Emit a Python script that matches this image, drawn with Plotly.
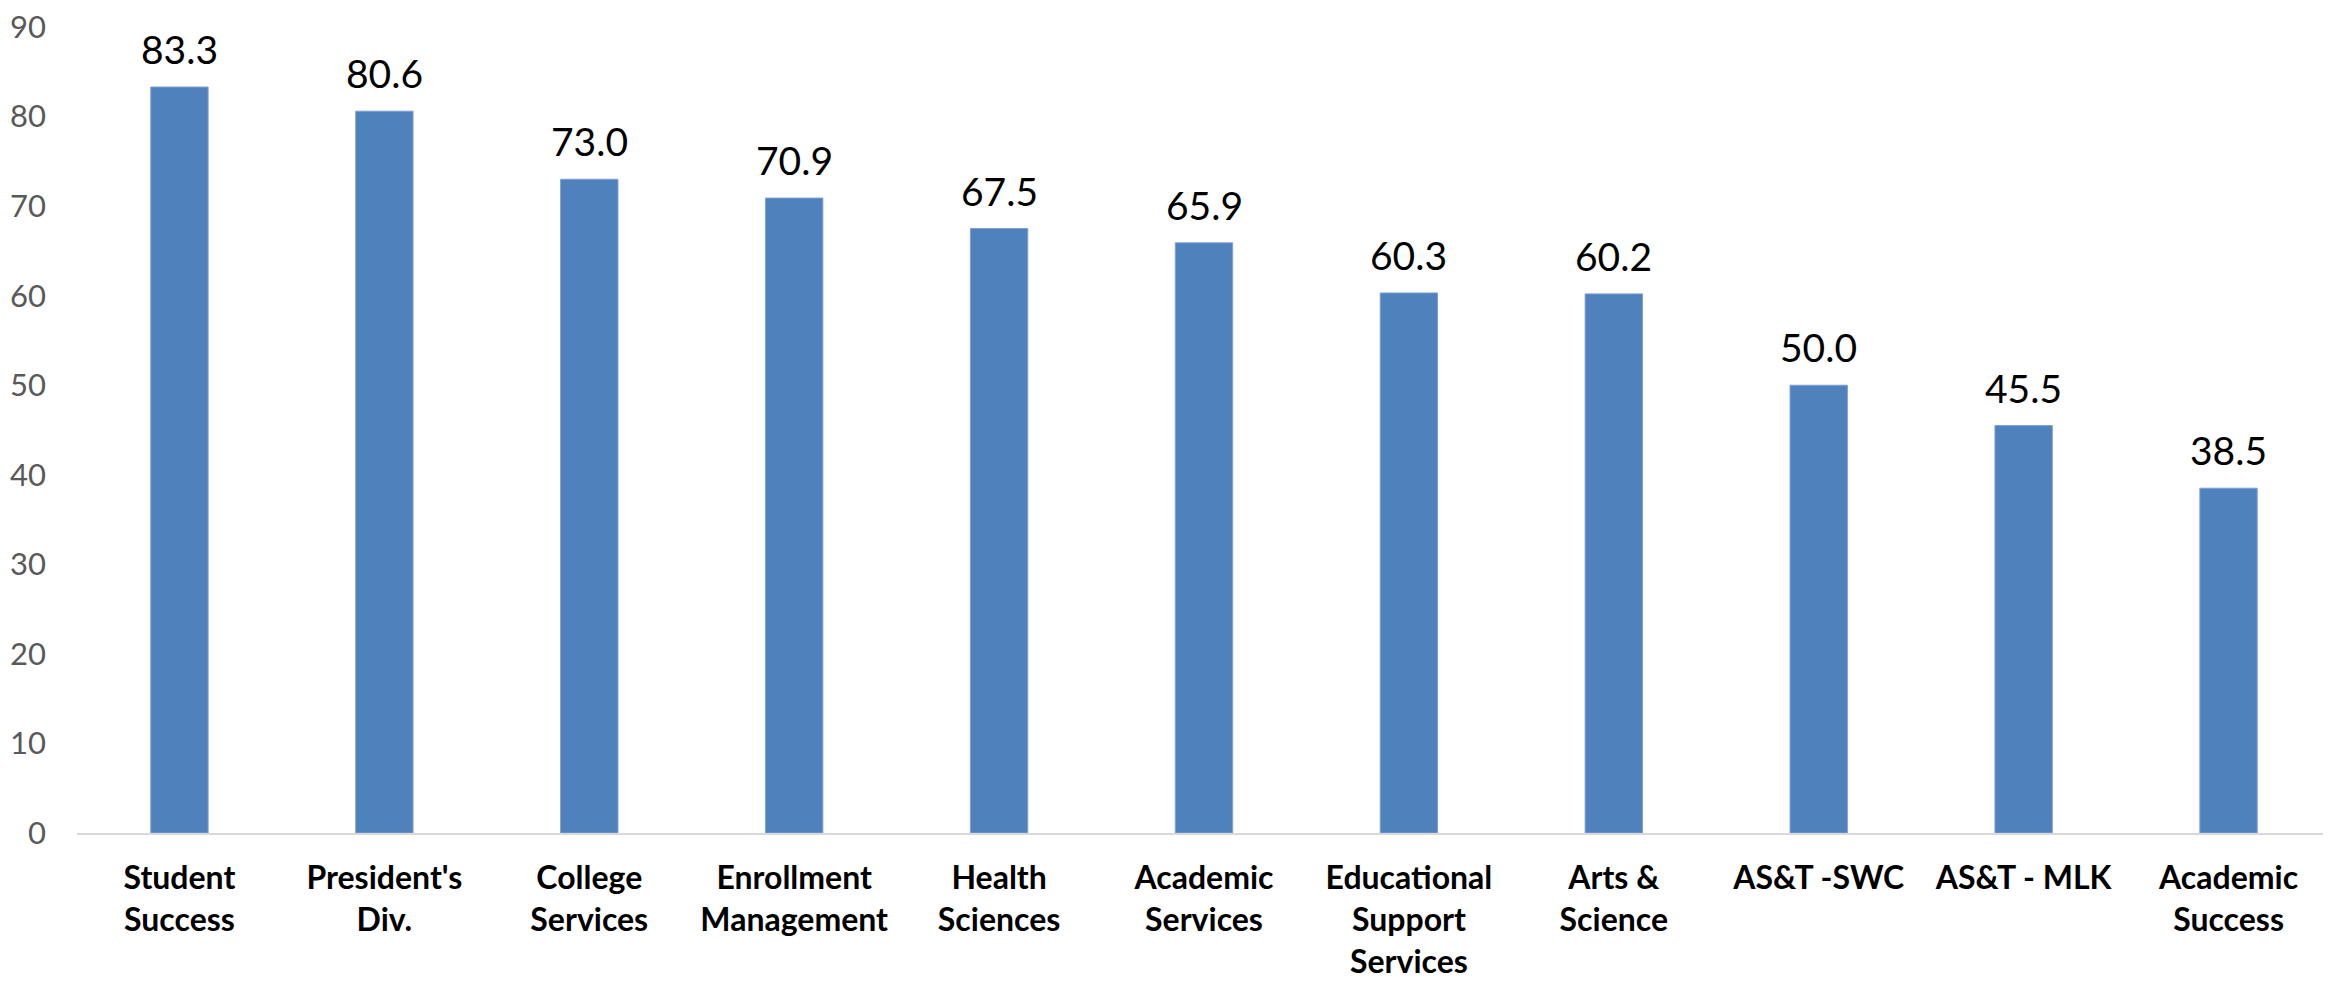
import plotly.graph_objects as go

categories = ["Student<br>Success", "President's<br>Div.", "College<br>Services",
              "Enrollment<br>Management", "Health<br>Sciences", "Academic<br>Services",
              "Educational<br>Support<br>Services", "Arts &<br>Science", "AS&T -SWC",
              "AS&T - MLK", "Academic<br>Success"]
values = [83.3, 80.6, 73.0, 70.9, 67.5, 65.9, 60.3, 60.2, 50.0, 45.5, 38.5]
y_ticks = [0, 10, 20, 30, 40, 50, 60, 70, 80, 90]

fig = go.Figure()
fig.add_trace(go.Bar(
    x=categories, y=values,
    marker=dict(color="#4F81BD", line=dict(color="#7EA1D3", width=1)),
    width=0.28,
))
for c, v in zip(categories, values):
    fig.add_annotation(x=c, y=v, text=f"{v:.1f}", showarrow=False,
                       yanchor="bottom", yshift=13,
                       font=dict(family="Lato", size=39, color="#000000"))

fig.update_layout(
    width=2331, height=981,
    margin=dict(l=69, r=8, t=19, b=156),
    paper_bgcolor="white", plot_bgcolor="white",
    showlegend=False,
    font=dict(family="Lato"),
)
fig.update_xaxes(
    range=[-0.5, 10.5], showgrid=False, showline=True,
    linecolor="#D9D9D9", linewidth=2, ticks="", automargin=False,
    tickfont=dict(family="Lato", size=32, color="#000000", weight="bold"),
    ticklabelstandoff=16,
)
fig.update_yaxes(
    range=[0, 90], tickvals=y_ticks, showgrid=False, zeroline=False,
    showline=False, ticks="", automargin=False, ticklabeloverflow="allow",
    tickfont=dict(family="Lato", size=31, color="#595959"),
    ticklabelstandoff=30,
)
fig.write_html("out.html")
